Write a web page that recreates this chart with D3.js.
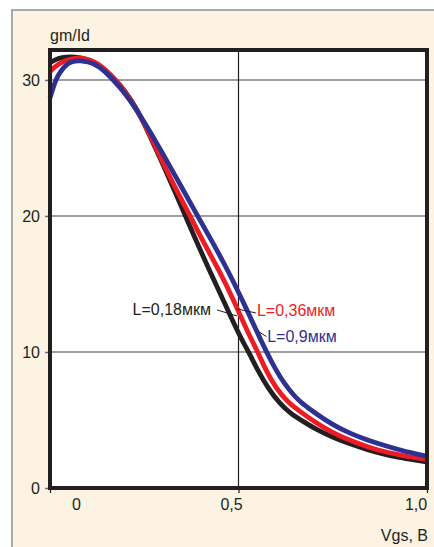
<!DOCTYPE html>
<html>
<head>
<meta charset="utf-8">
<script src="https://cdn.jsdelivr.net/npm/d3@7"></script>
<style>
  html, body { margin: 0; padding: 0; background: #ffffff; }
  svg { display: block; }
  text { font-family: "Liberation Sans", Arial, Helvetica, sans-serif; fill: #231f20; }
</style>
</head>
<body>
<svg id="chart" width="434" height="547"></svg>
<script>
// gm/Id versus Vgs for three channel lengths
const xTickValues = [0, 0.5, 1.0];
const xTickLabels = ["0", "0,5", "1,0"];
const yTickValues = [0, 10, 20, 30];
const yTickLabels = ["0", "10", "20", "30"];
const seriesNames = ["L=0,18мкм", "L=0,36мкм", "L=0,9мкм"];

const vgsBlack  = [0, 0.013, 0.032, 0.053, 0.080, 0.106, 0.133, 0.159, 0.186, 0.212, 0.239, 0.265, 0.292, 0.332, 0.371, 0.422, 0.462, 0.499, 0.531, 0.552, 0.578, 0.610, 0.642, 0.663, 0.706, 0.751, 0.796, 0.841, 0.883, 0.928, 0.966, 1.0];
const gmIdBlack = [31.25, 31.49, 31.65, 31.71, 31.65, 31.43, 31.03, 30.44, 29.63, 28.68, 27.43, 25.88, 24.26, 21.76, 19.23, 16.03, 13.68, 11.40, 9.78, 8.60, 7.35, 6.18, 5.40, 5.04, 4.30, 3.71, 3.24, 2.82, 2.50, 2.23, 2.06, 1.91];

const vgsRed  = [0, 0.013, 0.032, 0.053, 0.072, 0.093, 0.119, 0.133, 0.159, 0.186, 0.212, 0.252, 0.286, 0.324, 0.369, 0.408, 0.448, 0.487, 0.525, 0.549, 0.572, 0.599, 0.631, 0.663, 0.706, 0.751, 0.796, 0.841, 0.883, 0.928, 0.966, 1.0];
const gmIdRed = [30.61, 30.99, 31.32, 31.54, 31.63, 31.60, 31.32, 31.07, 30.44, 29.63, 28.64, 26.76, 24.71, 22.50, 20.15, 18.01, 16.03, 13.82, 11.40, 10.15, 8.68, 7.35, 6.29, 5.63, 4.78, 4.04, 3.49, 3.04, 2.68, 2.43, 2.24, 2.10];

const vgsBlue  = [0, 0.008, 0.016, 0.027, 0.040, 0.053, 0.066, 0.080, 0.101, 0.119, 0.138, 0.159, 0.186, 0.212, 0.252, 0.292, 0.340, 0.387, 0.430, 0.471, 0.509, 0.548, 0.573, 0.597, 0.623, 0.650, 0.663, 0.706, 0.751, 0.796, 0.841, 0.883, 0.928, 0.966, 1.0];
const gmIdBlue = [28.68, 29.41, 30.04, 30.59, 31.03, 31.29, 31.40, 31.42, 31.34, 31.14, 30.81, 30.26, 29.45, 28.53, 26.84, 24.93, 22.57, 20.22, 18.13, 16.03, 13.90, 11.54, 10.07, 8.78, 7.60, 6.71, 6.36, 5.44, 4.63, 4.01, 3.53, 3.16, 2.79, 2.54, 2.32];

const INK = "#231f20";
const RED = "#ed1c24";
const BLUE = "#2e3192";

const svg = d3.select("#chart");

// page panel: beige sheet with grey rules on the left and top
svg.append("rect").attr("x", 12).attr("y", 10).attr("width", 422).attr("height", 537).attr("fill", "#fcf3e3");
svg.append("line").attr("x1", 12).attr("x2", 12).attr("y1", 9).attr("y2", 547).attr("stroke", "#a7a9ac").attr("stroke-width", 2);
svg.append("line").attr("x1", 11).attr("x2", 434).attr("y1", 10).attr("y2", 10).attr("stroke", "#a7a9ac").attr("stroke-width", 2);

const plot = { left: 50, right: 427, top: 50, bottom: 488 };
const x = d3.scaleLinear().domain([0, 1.0]).range([plot.left, plot.right]);
const y = d3.scaleLinear().domain([0, 32.2]).range([plot.bottom, plot.top]);

// white plotting field
svg.append("rect")
  .attr("x", plot.left).attr("y", plot.top)
  .attr("width", plot.right - plot.left).attr("height", plot.bottom - plot.top)
  .attr("fill", "#ffffff");

// horizontal grid
svg.append("g").selectAll("line")
  .data(yTickValues.filter(v => v > 0))
  .join("line")
  .attr("x1", plot.left).attr("x2", plot.right)
  .attr("y1", d => y(d)).attr("y2", d => y(d))
  .attr("stroke", "#7f7f7f").attr("stroke-width", 1.5);

// vertical grid at 0,5
svg.append("line")
  .attr("x1", x(0.5)).attr("x2", x(0.5))
  .attr("y1", plot.top).attr("y2", plot.bottom)
  .attr("stroke", INK).attr("stroke-width", 1.2);

// curves (smoothed B-spline through the measured points)
const line = d3.line().x(d => x(d[0])).y(d => y(d[1])).curve(d3.curveBasis);
const series = [
  { vgs: vgsBlack, gm: gmIdBlack, color: INK },
  { vgs: vgsRed, gm: gmIdRed, color: RED },
  { vgs: vgsBlue, gm: gmIdBlue, color: BLUE }
];
svg.append("g").selectAll("path")
  .data(series)
  .join("path")
  .attr("d", s => line(s.vgs.map((v, i) => [v, s.gm[i]])))
  .attr("fill", "none")
  .attr("stroke", s => s.color)
  .attr("stroke-width", 4.8)
  .attr("stroke-linejoin", "round");

// axes
const xAxis = d3.axisBottom(x)
  .tickValues(xTickValues)
  .tickFormat((d, i) => xTickLabels[i])
  .tickSize(5).tickPadding(6);
const xLabelShift = [26, -7.5, -11.5];
const gx = svg.append("g").attr("transform", `translate(0,${plot.bottom})`).call(xAxis);
gx.select(".domain").remove();
gx.selectAll(".tick line").attr("stroke", INK).attr("stroke-width", 1.2);
gx.selectAll(".tick text")
  .attr("dx", (d, i) => xLabelShift[i])
  .style("font-size", "16px").attr("fill", INK);

const yAxis = d3.axisLeft(y)
  .tickValues(yTickValues)
  .tickFormat((d, i) => yTickLabels[i])
  .tickSize(5).tickPadding(5);
const gy = svg.append("g").attr("transform", `translate(${plot.left},0)`).call(yAxis);
gy.select(".domain").remove();
gy.selectAll(".tick line").attr("stroke", "#6d6e71").attr("stroke-width", 1.5);
gy.selectAll(".tick text").style("font-size", "16px").attr("fill", INK);

// heavy frame around the plotting field
svg.append("rect")
  .attr("x", plot.left).attr("y", plot.top)
  .attr("width", plot.right - plot.left).attr("height", plot.bottom - plot.top)
  .attr("fill", "none").attr("stroke", INK).attr("stroke-width", 4);

// axis titles
svg.append("text").attr("x", plot.left).attr("y", 41)
  .style("font-size", "16px").text("gm/Id");
svg.append("text").attr("x", 428).attr("y", 541)
  .attr("text-anchor", "end").style("font-size", "16px").text("Vgs, B");

// series labels with leader lines (positions in data units)
const labels = [
  { text: seriesNames[0], color: INK,  at: [0.427, 12.72], anchor: "end",   lead: [[0.443, 13.09], [0.496, 12.65]] },
  { text: seriesNames[1], color: RED,  at: [0.549, 12.61], anchor: "start", lead: [[0.496, 13.16], [0.546, 12.87]] },
  { text: seriesNames[2], color: BLUE, at: [0.576, 10.77], anchor: "start", lead: [[0.552, 11.51], [0.574, 11.14]] }
];
const lg = svg.append("g");
lg.selectAll("line")
  .data(labels)
  .join("line")
  .attr("x1", d => x(d.lead[0][0])).attr("y1", d => y(d.lead[0][1]))
  .attr("x2", d => x(d.lead[1][0])).attr("y2", d => y(d.lead[1][1]))
  .attr("stroke", INK).attr("stroke-width", 1);
lg.selectAll("text")
  .data(labels)
  .join("text")
  .attr("x", d => x(d.at[0])).attr("y", d => y(d.at[1]))
  .attr("text-anchor", d => d.anchor)
  .style("font-size", "16px")
  .style("fill", d => d.color)
  .text(d => d.text);
</script>
</body>
</html>
